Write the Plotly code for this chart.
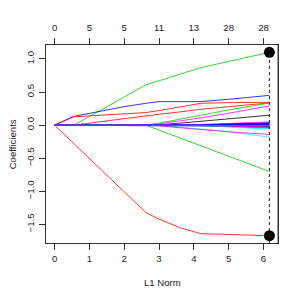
import plotly.graph_objects as go

# L1 norm knots
l1_norm = [0, 0.55, 1.0, 2.0, 2.62, 3.0, 3.6, 4.2, 5.0, 6.17]

# coefficient paths (one list per variable, values at l1_norm knots)
v01 = [0, 0, 0, 0, 0, 0.005, 0.03, 0.06, 0.10, 0.15]
v02 = [0, -0.279, -0.508, -1.015, -1.32, -1.42, -1.55, -1.64, -1.655, -1.67]
v03 = [0, 0, 0.13, 0.425, 0.609, 0.67, 0.77, 0.868, 0.962, 1.10]
v04 = [0, 0.132, 0.178, 0.28, 0.33, 0.355, 0.355, 0.355, 0.39, 0.45]
v05 = [0, 0, 0, 0, 0, -0.01, -0.03, -0.06, -0.10, -0.18]
v06 = [0, 0, 0, 0, 0, 0.02, 0.06, 0.11, 0.18, 0.29]
v07 = [0, 0, 0, 0, 0, 0, 0, 0, 0.015, 0.03]
v08 = [0, 0.125, 0.14, 0.17, 0.19, 0.22, 0.28, 0.33, 0.34, 0.345]
v09 = [0, 0, 0, 0, 0, -0.075, -0.19, -0.31, -0.47, -0.70]
v10 = [0, 0, 0, 0, 0, 0, 0, 0.01, 0.02, 0.03]
v11 = [0, 0, 0, 0, 0, 0, 0, 0, -0.025, -0.05]
v12 = [0, 0, 0, 0, 0, -0.01, -0.04, -0.07, -0.10, -0.14]
v13 = [0, 0, 0, 0, 0, 0, 0, 0, 0.0, 0.0]
v14 = [0, 0, 0.03, 0.10, 0.14, 0.165, 0.20, 0.24, 0.28, 0.335]
v15 = [0, 0, 0, 0, 0, 0.03, 0.09, 0.15, 0.23, 0.335]
v16 = [0, 0, 0, 0, 0, 0, 0, -0.01, -0.02, -0.04]
v17 = [0, 0, 0, 0, 0, 0, 0, 0, -0.015, -0.03]
v18 = [0, 0, 0, 0, 0, 0, 0, 0, 0.025, 0.05]
v19 = [0, 0, 0, 0, 0, 0, 0, 0, -0.005, -0.01]
v20 = [0, 0, 0, 0, 0, 0, 0, 0, 0.005, 0.01]
v21 = [0, 0, 0, 0, 0, 0, 0, 0, -0.02, -0.04]
v22 = [0, 0, 0, 0, 0, 0, 0, 0, 0.0, 0.005]
v23 = [0, 0, 0, 0, 0, 0, 0, 0, -0.03, -0.06]
v24 = [0, 0, 0, 0, 0, 0, 0, 0, 0.015, 0.03]
v25 = [0, 0, 0, 0, 0, 0, 0, 0, -0.01, -0.02]
v26 = [0, 0, 0, 0, 0, 0, 0, 0, 0.0, 0.0]
v27 = [0, 0, 0, 0, 0, 0, 0, 0, 0.005, 0.01]
v28 = [0, 0, 0, 0, 0, 0, 0, 0, -0.015, -0.03]

paths = [v01, v02, v03, v04, v05, v06, v07, v08, v09, v10, v11, v12, v13, v14,
         v15, v16, v17, v18, v19, v20, v21, v22, v23, v24, v25, v26, v27, v28]

BLACK, RED, GREEN, BLUE, CYAN, MAGENTA = ("#000000", "#FF0000", "#00CD00",
                                          "#0000FF", "#00FFFF", "#FF00FF")
colors = [BLACK, RED, GREEN, BLUE, CYAN, MAGENTA,
          BLACK, RED, GREEN, BLUE, CYAN, MAGENTA,
          BLACK, RED, GREEN, BLUE, CYAN, MAGENTA,
          BLACK, RED, GREEN, BLUE, CYAN, BLUE,
          BLACK, CYAN, BLUE, MAGENTA]

# top axis: degrees of freedom
df_ticks = [0, 1, 2, 3, 4, 5, 6]
df_labels = ["0", "5", "5", "11", "13", "28", "28"]
bottom_ticks = [0, 1, 2, 3, 4, 5, 6]
y_ticks = [-1.5, -1.0, -0.5, 0.0, 0.5, 1.0]
y_labels = ["\u22121.5", "\u22121.0", "\u22120.5", "0.0", "0.5", "1.0"]

FONT = "Liberation Sans, Arial, sans-serif"
FS = 9.6
OFF = 8  # page body margin

fig = go.Figure()
for p, c in zip(paths, colors):
    fig.add_trace(go.Scatter(x=l1_norm, y=p, mode="lines",
                             line=dict(color=c, width=0.8),
                             hoverinfo="skip", showlegend=False))

# endpoint markers at max and min final coefficients
finals = [p[-1] for p in paths]
xmax = l1_norm[-1]
fig.add_trace(go.Scatter(x=[xmax, xmax], y=[max(finals), min(finals)], mode="markers",
                         marker=dict(color="black", size=11), showlegend=False,
                         hoverinfo="skip"))
# dotted vertical line at max L1
fig.add_shape(type="line", x0=xmax, x1=xmax, y0=0, y1=1, xref="x", yref="paper",
              line=dict(color="#222", width=1, dash="dot"))

allv = [v for p in paths for v in p]
ymin, ymax = min(allv), max(allv)
yr = ymax - ymin
xr = max(l1_norm) - min(l1_norm)
xrange = [min(l1_norm) - 0.04 * xr, max(l1_norm) + 0.04 * xr]
yrange = [ymin - 0.04 * yr, ymax + 0.04 * yr]

axis_common = dict(showgrid=False, zeroline=False, showline=True, linecolor="#333",
                   linewidth=1, ticks="outside", ticklen=6, tickcolor="#333",
                   tickfont=dict(family=FONT, size=FS, color="#222"))

fig.update_layout(
    width=301, height=301,
    margin=dict(l=46 - OFF, r=23 + OFF, t=45 - OFF, b=58 + OFF),
    plot_bgcolor="white", paper_bgcolor="white",
    xaxis=dict(range=xrange, tickvals=bottom_ticks, mirror=False, **axis_common),
    xaxis2=dict(range=xrange, tickvals=df_ticks, ticktext=df_labels, overlaying="x",
                side="top", anchor="y", matches="x", ticklabelstandoff=3, **axis_common),
    yaxis=dict(range=yrange, tickvals=y_ticks, ticktext=y_labels, tickangle=-90,
               mirror=True, ticklabelstandoff=1, **axis_common),
    annotations=[
        dict(text="L1 Norm", x=0.5, y=-0.202, xref="paper", yref="paper",
             showarrow=False, xanchor="center", yanchor="middle",
             font=dict(family=FONT, size=FS, color="#222")),
        dict(text="Coefficients", x=-0.145, y=0.5, xref="paper", yref="paper",
             showarrow=False, xanchor="center", yanchor="middle", textangle=-90,
             font=dict(family=FONT, size=FS, color="#222")),
    ],
)
# dummy trace so the top axis is drawn
fig.add_trace(go.Scatter(x=[xmax], y=[0], xaxis="x2", mode="markers",
                         marker=dict(opacity=0), hoverinfo="skip", showlegend=False))
fig.add_shape(type="line", x0=1, x1=1, y0=0, y1=1, xref="paper", yref="paper",
              line=dict(color="#333", width=1))

fig.write_html("out.html")
